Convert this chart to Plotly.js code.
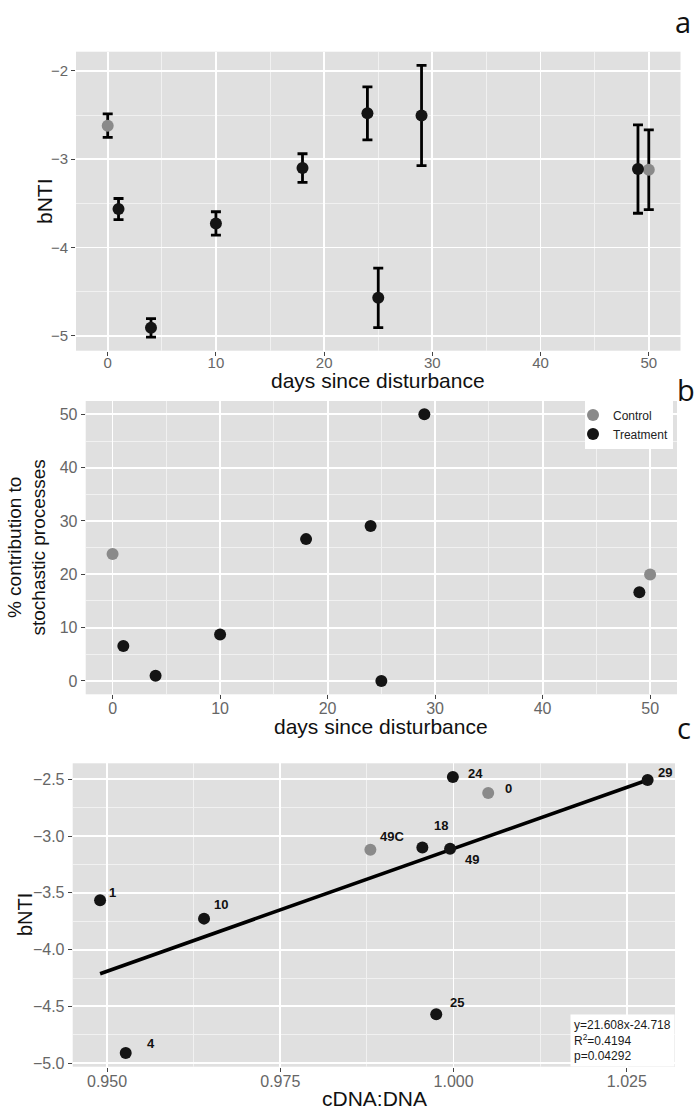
<!DOCTYPE html>
<html><head><meta charset="utf-8">
<script src="https://cdn.plot.ly/plotly-3.0.1.min.js"></script>
<style>html,body{margin:0;padding:0;background:#fff}#chart{width:700px;height:1110px}</style>
</head><body><div id="chart"></div>
<script>
// ---------------- data ----------------
const seriesNames = ['Control', 'Treatment'];

const controlDays = [0, 50];
const controlBNTI = [-2.62, -3.12];
const controlErr = [0.133, 0.452];
const controlPct = [23.8, 19.95];
const controlRatio = [1.005, 0.988];
const controlLabels = ['0', '49C'];

const treatDays = [1, 4, 10, 18, 24, 25, 29, 49];
const treatBNTI = [-3.565, -4.91, -3.727, -3.10, -2.48, -4.57, -2.505, -3.112];
const treatErr = [0.12, 0.105, 0.132, 0.162, 0.30, 0.337, 0.567, 0.50];
const treatPct = [6.55, 1.0, 8.73, 26.6, 29.05, 0, 50, 16.65];
const treatRatio = [0.949, 0.9527, 0.964, 0.9955, 0.9999, 0.9975, 1.028, 0.9995];
const treatLabels = ['1', '4', '10', '18', '24', '25', '29', '49'];

const fitX = [0.949, 1.028];
const fitY = [-4.212, -2.505];
const fitText = ['y=21.608x-24.718', 'R<sup>2</sup>=0.4194', 'p=0.04292'];

const panelLetters = ['a', 'b', 'c'];
const xTitles = ['days since disturbance', 'days since disturbance', 'cDNA:DNA'];
const yTitles = ['bNTI', '% contribution to<br>stochastic processes', 'bNTI'];

// ---------------- style ----------------
const FONT = 'Liberation Sans, Arial, Helvetica, sans-serif';
const CTRL = '#8a8a8a', TRT = '#141414';
const W = 700, H = 1110;
const px = v => v / W, py = v => 1 - v / H;

const labelShift = { '0': [20, -4], '49C': [22, -13.5], '1': [12, -8], '4': [25.7, -9.3], '10': [16.7, -14.3],
  '18': [19, -22], '24': [23, -4], '25': [21, -12.3], '29': [17, -7], '49': [22, 11] };

function axis(extra, tickSize) {
  return Object.assign({
    showgrid: true, gridcolor: '#ffffff', gridwidth: 1.8,
    zeroline: false, showline: false,
    ticks: 'outside', ticklen: 4, tickwidth: 1, tickcolor: '#444',
    tickfont: { family: FONT, size: tickSize, color: '#666' },
    automargin: false, fixedrange: true
  }, extra);
}
const minorGrid = d => ({ dtick: d, showgrid: true, gridcolor: '#f1f1f1', gridwidth: 1, ticks: '' });

const errStyle = arr => ({ type: 'data', array: arr, visible: true, color: '#000', thickness: 2.8, width: 5 });

const traces = [
  // panel a
  { x: controlDays, y: controlBNTI, error_y: errStyle(controlErr), type: 'scatter', mode: 'markers',
    marker: { color: CTRL, size: 12 }, name: seriesNames[0], legendgroup: 'c', showlegend: false, xaxis: 'x', yaxis: 'y' },
  { x: treatDays, y: treatBNTI, error_y: errStyle(treatErr), type: 'scatter', mode: 'markers',
    marker: { color: TRT, size: 12 }, name: seriesNames[1], legendgroup: 't', showlegend: false, xaxis: 'x', yaxis: 'y' },
  // panel b
  { x: controlDays, y: controlPct, type: 'scatter', mode: 'markers',
    marker: { color: CTRL, size: 12 }, name: seriesNames[0], legendgroup: 'c', showlegend: true, xaxis: 'x2', yaxis: 'y2' },
  { x: treatDays, y: treatPct, type: 'scatter', mode: 'markers',
    marker: { color: TRT, size: 12 }, name: seriesNames[1], legendgroup: 't', showlegend: true, xaxis: 'x2', yaxis: 'y2' },
  // panel c
  { x: fitX, y: fitY, type: 'scatter', mode: 'lines', line: { color: '#000', width: 3.6 },
    name: 'fit', showlegend: false, hoverinfo: 'skip', xaxis: 'x3', yaxis: 'y3' },
  { x: controlRatio, y: controlBNTI, type: 'scatter', mode: 'markers',
    marker: { color: CTRL, size: 12 }, name: seriesNames[0], showlegend: false, xaxis: 'x3', yaxis: 'y3' },
  { x: treatRatio, y: treatBNTI, type: 'scatter', mode: 'markers',
    marker: { color: TRT, size: 12 }, name: seriesNames[1], showlegend: false, xaxis: 'x3', yaxis: 'y3' }
];

const annotations = [];
const addLabels = (xs, ys, labels) => labels.forEach((t, i) => {
  const s = labelShift[t] || [15, -8];
  annotations.push({ x: xs[i], y: ys[i], xref: 'x3', yref: 'y3', text: '<b>' + t + '</b>', showarrow: false,
    xanchor: 'center', yanchor: 'middle', xshift: s[0], yshift: -s[1],
    font: { family: FONT, size: 13, color: '#111' } });
});
addLabels(controlRatio, controlBNTI, controlLabels);
addLabels(treatRatio, treatBNTI, treatLabels);

// regression equation box
annotations.push({ xref: 'paper', yref: 'paper', x: px(675), y: py(1066.7), xanchor: 'right', yanchor: 'bottom',
  text: fitText.join('<br>'), align: 'left', showarrow: false, bgcolor: '#ffffff', borderpad: 3,
  font: { family: FONT, size: 12, color: '#1a1a1a' } });

// panel letters
[[683, 0, 'top'], [686, 390, 'middle'], [684, 727, 'middle']].forEach((p, i) => annotations.push({
  xref: 'paper', yref: 'paper', x: px(p[0]), y: py(p[1]), xanchor: 'center', yanchor: p[2],
  text: panelLetters[i], showarrow: false, font: { family: 'Open Sans, sans-serif', size: 29, color: '#111' } }));

// axis titles
const titleFont = s => ({ family: FONT, size: s, color: '#111' });
[[378, 380], [381, 726], [374, 1098]].forEach((p, i) => annotations.push({
  xref: 'paper', yref: 'paper', x: px(p[0]), y: py(p[1]), xanchor: 'center', yanchor: 'middle',
  text: xTitles[i], showarrow: false, font: titleFont(21) }));
[[44, 201, 21], [26, 547.5, 19], [25, 915, 20]].forEach((p, i) => annotations.push({
  xref: 'paper', yref: 'paper', x: px(p[0]), y: py(p[1]), xanchor: 'center', yanchor: 'middle',
  text: yTitles[i], textangle: -90, showarrow: false, font: titleFont(p[2]) }));

const layout = {
  width: W, height: H, margin: { l: 0, r: 0, t: 0, b: 0 },
  paper_bgcolor: '#ffffff', plot_bgcolor: '#e0e0e0',
  showlegend: true,
  legend: { x: px(673), y: py(400.5), xanchor: 'right', yanchor: 'top', bgcolor: '#ffffff',
    font: { family: FONT, size: 12, color: '#222' }, itemwidth: 30, indentation: -12, tracegroupgap: 0 },
  xaxis: axis({ domain: [px(76), px(680.5)], range: [-2.93, 52.93], dtick: 10, tick0: 0, minor: minorGrid(5),
    anchor: 'y', ticklabelstandoff: -6 }, 15),
  yaxis: axis({ domain: [py(350.7), py(51.7)], range: [-5.169, -1.782], dtick: 1, tick0: 0, minor: minorGrid(0.5),
    anchor: 'x' }, 15),
  xaxis2: axis({ domain: [px(85.7), px(677)], range: [-2.5, 52.5], dtick: 10, tick0: 0, minor: minorGrid(5),
    anchor: 'y2', ticklabelstandoff: -5 }, 16),
  yaxis2: axis({ domain: [py(694.3), py(401)], range: [-2.5, 52.5], dtick: 10, tick0: 0, minor: minorGrid(5),
    anchor: 'x2' }, 16),
  xaxis3: axis({ domain: [px(72.7), px(675)], range: [0.94505, 1.03195], dtick: 0.025, tick0: 0.95, tickformat: '.3f',
    minor: minorGrid(0.0125), anchor: 'y3', ticklabelstandoff: -4 }, 16),
  yaxis3: axis({ domain: [py(1066.7), py(763.3)], range: [-5.0315, -2.3585], dtick: 0.5, tick0: 0, tickformat: '.1f',
    minor: minorGrid(0.25), anchor: 'x3' }, 16),
  annotations: annotations
};

Plotly.newPlot('chart', traces, layout, { displayModeBar: false, staticPlot: true });
</script></body></html>
